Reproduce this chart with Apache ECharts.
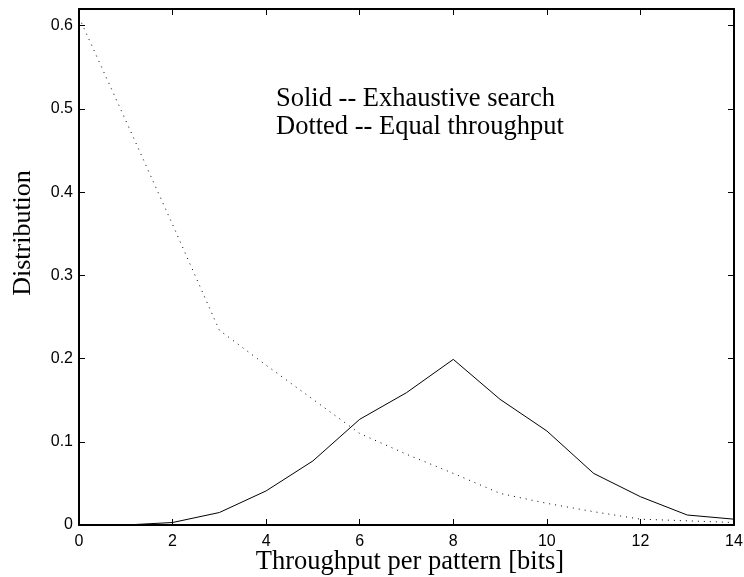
<!DOCTYPE html>
<html>
<head>
<meta charset="utf-8">
<script src="https://cdn.jsdelivr.net/npm/echarts@6/dist/echarts.min.js"></script>
<style>
html,body{margin:0;padding:0;background:#fff;}
#chart{width:744px;height:577px;}
</style>
</head>
<body>
<div id="chart"></div>
<script>
var xValues = [0, 1, 2, 3, 4, 5, 6, 7, 8, 9, 10, 11, 12, 13, 14];
var solidValues = [0, 0, 0.003, 0.015, 0.041, 0.077, 0.127, 0.159, 0.199, 0.151, 0.113, 0.062, 0.034, 0.012, 0.007];
var dottedValues = [0.61, 0.486, 0.361, 0.234, 0.192, 0.151, 0.110, 0.085, 0.062, 0.038, 0.026, 0.016, 0.007, 0.005, 0.003];
var xTicks = [0, 2, 4, 6, 8, 10, 12, 14];
var yTicks = [0, 0.1, 0.2, 0.3, 0.4, 0.5, 0.6];
var legendLines = ['Solid -- Exhaustive search', 'Dotted -- Equal throughput'];
var xTitle = 'Throughput per pattern [bits]';
var yTitle = 'Distribution';

function pairs(xs, ys) { return xs.map(function (x, i) { return [x, ys[i]]; }); }

var chart = echarts.init(document.getElementById('chart'), null, {renderer: 'canvas'});
var serif = '"Liberation Serif", "DejaVu Serif", serif';
var sans = '"Liberation Sans", Arial, sans-serif';
var lineCol = '#000';

function yFmt(v) {
  var r = Math.round(v * 10) / 10;
  if (Math.abs(r - v) > 1e-9) return '';
  return r === 0 ? '0' : r.toFixed(1);
}

var option = {
  backgroundColor: '#fff',
  animation: false,
  grid: {left: 79, right: 10, top: 9, bottom: 52, containLabel: false, outerBoundsMode: 'none'},
  xAxis: [{
    type: 'value', min: xTicks[0], max: xTicks[xTicks.length - 1], interval: 2,
    position: 'bottom',
    axisLine: {show: true, onZero: false, lineStyle: {color: lineCol, width: 2}},
    axisTick: {show: true, inside: true, length: 6, lineStyle: {color: lineCol, width: 1}},
    axisLabel: {show: true, fontFamily: sans, fontSize: 16, color: '#000', margin: 9},
    splitLine: {show: false}
  }, {
    type: 'value', min: xTicks[0], max: xTicks[xTicks.length - 1], interval: 2,
    position: 'top',
    axisLine: {show: true, onZero: false, lineStyle: {color: lineCol, width: 2}},
    axisTick: {show: true, inside: true, length: 6, lineStyle: {color: lineCol, width: 1}},
    axisLabel: {show: false},
    splitLine: {show: false}
  }],
  yAxis: [{
    type: 'value', min: 0, max: 0.62, interval: 0.1,
    position: 'left',
    axisLine: {show: true, onZero: false, lineStyle: {color: lineCol, width: 2}},
    axisTick: {show: true, inside: true, length: 6, lineStyle: {color: lineCol, width: 1}},
    axisLabel: {show: true, fontFamily: sans, fontSize: 16, color: '#000', margin: 6, formatter: yFmt, showMaxLabel: false},
    splitLine: {show: false}
  }, {
    type: 'value', min: 0, max: 0.62, interval: 0.1,
    position: 'right',
    axisLine: {show: true, onZero: false, lineStyle: {color: lineCol, width: 2}},
    axisTick: {show: true, inside: true, length: 6, lineStyle: {color: lineCol, width: 1}},
    axisLabel: {show: false},
    splitLine: {show: false}
  }],
  series: [{
    name: 'Exhaustive search', type: 'line', xAxisIndex: 0, yAxisIndex: 0,
    data: pairs(xValues, solidValues), showSymbol: false, symbol: 'none',
    lineStyle: {color: '#000', width: 1, type: 'solid'}, z: 3
  }, {
    name: 'Equal throughput', type: 'line', xAxisIndex: 0, yAxisIndex: 0,
    data: pairs(xValues, dottedValues), showSymbol: false, symbol: 'none',
    lineStyle: {color: '#000', width: 1, type: [1, 5]}, z: 2
  }],
  graphic: [{
    type: 'text', left: 276, top: 86,
    style: {text: legendLines[0], font: '26.5px ' + serif, fill: '#000'}
  }, {
    type: 'text', left: 276, top: 114,
    style: {text: legendLines[1], font: '26.5px ' + serif, fill: '#000'}
  }, {
    type: 'text', x: 410, y: 549,
    style: {text: xTitle, font: '26.5px ' + serif, fill: '#000', align: 'center', verticalAlign: 'top'}
  }, {
    type: 'text', x: 23, y: 233, rotation: Math.PI / 2,
    style: {text: yTitle, font: '26px ' + serif, fill: '#000', align: 'center', verticalAlign: 'middle'}
  }]
};
chart.setOption(option);
</script>
</body>
</html>
